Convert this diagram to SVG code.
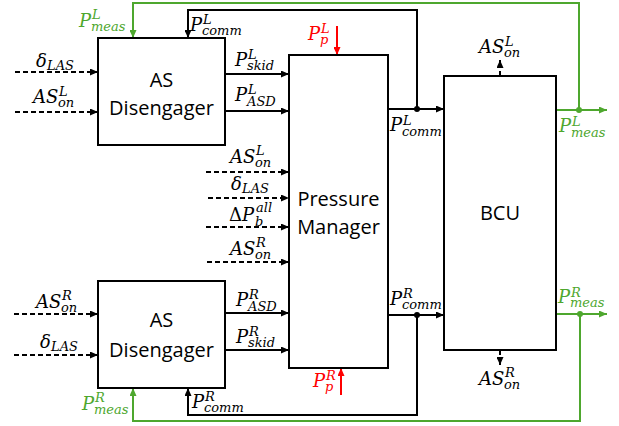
<svg xmlns="http://www.w3.org/2000/svg" width="619" height="426" viewBox="0 0 619 426">
<style>
.box{fill:#fff;stroke:#000;stroke-width:2}
.bt{font-family:"Open Sans","Liberation Sans",sans-serif;font-size:20px;fill:#000;text-anchor:middle}
.m{font-family:"DejaVu Serif",serif;font-style:italic;font-size:18px;fill:#000}
.s{font-size:13px}
.g{fill:#4ea72e}
.r{fill:#ff0000}
.ln{fill:none;stroke:#000;stroke-width:2}
.dash{stroke-dasharray:5,3}
.gl{fill:none;stroke:#4ea72e;stroke-width:2}
.rl{fill:none;stroke:#ff0000;stroke-width:2}
</style>
<defs>
<marker id="ak" markerUnits="userSpaceOnUse" markerWidth="8" markerHeight="7" refX="8" refY="3.5" orient="auto"><path d="M0,0L8,3.5L0,7z" fill="#000"/></marker>
<marker id="ag" markerUnits="userSpaceOnUse" markerWidth="8" markerHeight="7" refX="8" refY="3.5" orient="auto"><path d="M0,0L8,3.5L0,7z" fill="#4ea72e"/></marker>
<marker id="ar" markerUnits="userSpaceOnUse" markerWidth="8" markerHeight="7" refX="8" refY="3.5" orient="auto"><path d="M0,0L8,3.5L0,7z" fill="#ff0000"/></marker>
</defs>

<g id="connectors">
<polyline class="gl" points="579,110 579,3 133,3 133,38" marker-end="url(#ag)"/>
<line class="gl" x1="556" y1="110" x2="607" y2="110" marker-end="url(#ag)"/>
<circle cx="579" cy="110" r="3" fill="#4ea72e"/>
<polyline class="ln" points="417,109 417,10 188,10 188,38" marker-end="url(#ak)"/>
<line class="ln" x1="388" y1="109" x2="444" y2="109" marker-end="url(#ak)"/>
<circle cx="417" cy="109" r="3" fill="#000"/>
<line class="ln dash" x1="15" y1="72" x2="98" y2="72" marker-end="url(#ak)"/>
<line class="ln dash" x1="15" y1="112" x2="98" y2="112" marker-end="url(#ak)"/>
<line class="ln" x1="225" y1="74" x2="289" y2="74" marker-end="url(#ak)"/>
<line class="ln" x1="225" y1="111" x2="289" y2="111" marker-end="url(#ak)"/>
<line class="ln dash" x1="206" y1="172" x2="289" y2="172" marker-end="url(#ak)"/>
<line class="ln dash" x1="208" y1="198" x2="289" y2="198" marker-end="url(#ak)"/>
<line class="ln dash" x1="206" y1="227" x2="289" y2="227" marker-end="url(#ak)"/>
<line class="ln dash" x1="207" y1="262" x2="289" y2="262" marker-end="url(#ak)"/>
<line class="rl" x1="337" y1="26" x2="337" y2="55" marker-end="url(#ar)"/>
<line class="rl" x1="341" y1="395" x2="341" y2="368" marker-end="url(#ar)"/>
<line class="ln" x1="500" y1="76" x2="500" y2="71"/>
<line class="ln" x1="500" y1="68" x2="500" y2="60" marker-end="url(#ak)"/>
<line class="ln" x1="500" y1="350" x2="500" y2="355"/>
<line class="ln" x1="500" y1="358" x2="500" y2="365" marker-end="url(#ak)"/>
<line class="ln dash" x1="14" y1="314" x2="98" y2="314" marker-end="url(#ak)"/>
<line class="ln dash" x1="14" y1="355" x2="98" y2="355" marker-end="url(#ak)"/>
<line class="ln" x1="225" y1="313" x2="289" y2="313" marker-end="url(#ak)"/>
<line class="ln" x1="225" y1="350" x2="289" y2="350" marker-end="url(#ak)"/>
<polyline class="ln" points="417,315 417,415 188,415 188,388" marker-end="url(#ak)"/>
<line class="ln" x1="388" y1="315" x2="444" y2="315" marker-end="url(#ak)"/>
<circle cx="417" cy="315" r="3" fill="#000"/>
<polyline class="gl" points="580,314 580,421 133,421 133,388" marker-end="url(#ag)"/>
<line class="gl" x1="556" y1="314" x2="607" y2="314" marker-end="url(#ag)"/>
<circle cx="580" cy="314" r="3" fill="#4ea72e"/>
</g>

<g id="as-disengager-top">
<rect class="box" x="98" y="38" width="127" height="107"/>
<text class="bt"><tspan x="161.5" y="87">AS</tspan><tspan x="161.5" y="115">Disengager</tspan></text>
</g>
<g id="pressure-manager">
<rect class="box" x="289" y="55" width="99" height="313"/>
<text class="bt"><tspan x="338.5" y="206">Pressure</tspan><tspan x="338.5" y="234">Manager</tspan></text>
</g>
<g id="bcu">
<rect class="box" x="444" y="76" width="112" height="274"/>
<text class="bt" x="500" y="220">BCU</text>
</g>
<g id="as-disengager-bottom">
<rect class="box" x="98" y="281" width="127" height="107"/>
<text class="bt"><tspan x="161.5" y="327">AS</tspan><tspan x="161.5" y="357">Disengager</tspan></text>
</g>

<g id="labels">
<text class="m g"><tspan x="79" y="27">P</tspan><tspan class="s" x="92" y="19">L</tspan><tspan class="s" x="91" y="31">meas</tspan></text>
<text class="m"><tspan x="190" y="31">P</tspan><tspan class="s" x="203" y="24">L</tspan><tspan class="s" x="202" y="35">comm</tspan></text>
<text class="m"><tspan x="36" y="67">δ</tspan><tspan class="s" x="47" y="70">LAS</tspan></text>
<text class="m"><tspan x="33" y="103">AS</tspan><tspan class="s" x="59" y="96">L</tspan><tspan class="s" x="58" y="107">on</tspan></text>
<text class="m"><tspan x="235" y="66">P</tspan><tspan class="s" x="248" y="59">L</tspan><tspan class="s" x="247" y="70">skid</tspan></text>
<text class="m"><tspan x="235" y="101">P</tspan><tspan class="s" x="248" y="94">L</tspan><tspan class="s" x="247" y="106">ASD</tspan></text>
<text class="m r"><tspan x="308" y="40">P</tspan><tspan class="s" x="321" y="33">L</tspan><tspan class="s" x="320" y="44">p</tspan></text>
<text class="m"><tspan x="390" y="131">P</tspan><tspan class="s" x="403" y="125">L</tspan><tspan class="s" x="402" y="136">comm</tspan></text>
<text class="m"><tspan x="479" y="53">AS</tspan><tspan class="s" x="505" y="46">L</tspan><tspan class="s" x="504" y="57">on</tspan></text>
<text class="m g"><tspan x="559" y="132">P</tspan><tspan class="s" x="572" y="126">L</tspan><tspan class="s" x="571" y="137">meas</tspan></text>
<text class="m"><tspan x="230" y="163">AS</tspan><tspan class="s" x="256" y="155">L</tspan><tspan class="s" x="255" y="167">on</tspan></text>
<text class="m"><tspan x="231" y="190">δ</tspan><tspan class="s" x="242" y="193">LAS</tspan></text>
<text class="m"><tspan x="229" y="221" font-style="normal">Δ</tspan><tspan>P</tspan><tspan class="s" x="256" y="212">all</tspan><tspan class="s" x="255" y="226">b</tspan></text>
<text class="m"><tspan x="230" y="255">AS</tspan><tspan class="s" x="256" y="247">R</tspan><tspan class="s" x="255" y="259">on</tspan></text>
<text class="m"><tspan x="36" y="308">AS</tspan><tspan class="s" x="62" y="300">R</tspan><tspan class="s" x="61" y="312">on</tspan></text>
<text class="m"><tspan x="40" y="348">δ</tspan><tspan class="s" x="51" y="351">LAS</tspan></text>
<text class="m"><tspan x="236" y="306">P</tspan><tspan class="s" x="249" y="299">R</tspan><tspan class="s" x="248" y="311">ASD</tspan></text>
<text class="m"><tspan x="236" y="343">P</tspan><tspan class="s" x="249" y="336">R</tspan><tspan class="s" x="248" y="347">skid</tspan></text>
<text class="m g"><tspan x="82" y="410">P</tspan><tspan class="s" x="95" y="402">R</tspan><tspan class="s" x="94" y="414">meas</tspan></text>
<text class="m"><tspan x="192" y="408">P</tspan><tspan class="s" x="205" y="401">R</tspan><tspan class="s" x="204" y="412">comm</tspan></text>
<text class="m"><tspan x="390" y="305">P</tspan><tspan class="s" x="403" y="298">R</tspan><tspan class="s" x="402" y="309">comm</tspan></text>
<text class="m g"><tspan x="558" y="303">P</tspan><tspan class="s" x="571" y="297">R</tspan><tspan class="s" x="570" y="307">meas</tspan></text>
<text class="m r"><tspan x="313" y="387">P</tspan><tspan class="s" x="326" y="380">R</tspan><tspan class="s" x="325" y="391">p</tspan></text>
<text class="m"><tspan x="479" y="385">AS</tspan><tspan class="s" x="505" y="377">R</tspan><tspan class="s" x="504" y="389">on</tspan></text>
</g>
</svg>
